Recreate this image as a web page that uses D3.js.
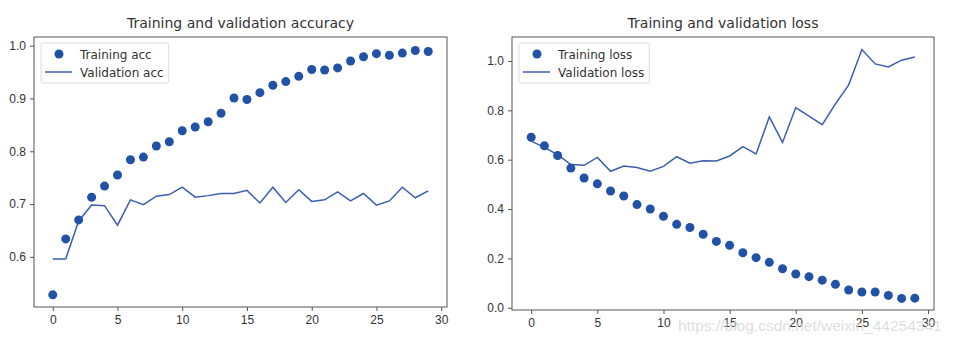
<!DOCTYPE html>
<html>
<head>
<meta charset="utf-8">
<script src="https://cdn.jsdelivr.net/npm/d3@7"></script>
<style>
  body { margin: 0; background: #fff; }
  svg { font-family: "DejaVu Sans", sans-serif; }
  .tick text { fill: #333; font-size: 12px; }
  .tick line, .domain { stroke: #555; }
</style>
</head>
<body>
<div id="chart"></div>
<script>
var width = 957;
var height = 344;

var epochs = d3.range(0, 30);

var trainAcc = [0.528, 0.634, 0.670, 0.713, 0.734, 0.755, 0.784, 0.789, 0.810, 0.818,
  0.839, 0.846, 0.856, 0.872, 0.901, 0.898, 0.911, 0.925, 0.932, 0.942,
  0.955, 0.954, 0.958, 0.971, 0.979, 0.985, 0.982, 0.986, 0.991, 0.989];
var valAcc = [0.596, 0.596, 0.668, 0.698, 0.697, 0.660, 0.708, 0.699, 0.715, 0.718,
  0.732, 0.713, 0.716, 0.720, 0.720, 0.726, 0.702, 0.732, 0.703, 0.727,
  0.705, 0.708, 0.723, 0.706, 0.720, 0.698, 0.706, 0.732, 0.712, 0.725];

var trainLoss = [0.691, 0.656, 0.617, 0.566, 0.526, 0.502, 0.473, 0.453, 0.418, 0.400,
  0.371, 0.338, 0.325, 0.298, 0.269, 0.253, 0.223, 0.203, 0.184, 0.158,
  0.137, 0.126, 0.112, 0.095, 0.072, 0.064, 0.064, 0.050, 0.038, 0.039];
var valLoss = [0.675, 0.650, 0.620, 0.580, 0.577, 0.609, 0.553, 0.574, 0.568, 0.553,
  0.573, 0.612, 0.586, 0.596, 0.595, 0.615, 0.653, 0.623, 0.773, 0.670,
  0.811, 0.776, 0.742, 0.826, 0.903, 1.046, 0.988, 0.976, 1.003, 1.016];

var xTicks = [0, 5, 10, 15, 20, 25, 30];
var accTicks = [0.6, 0.7, 0.8, 0.9, 1.0];
var lossTicks = [0.0, 0.2, 0.4, 0.6, 0.8, 1.0];

var dotColor = "#2152a6";
var lineColor = "#3a5fb0";

var svg = d3.select("#chart")
  .append("svg")
  .attr("width", width)
  .attr("height", height);

function drawPanel(opts) {
  var xScale = d3.scaleLinear()
    .domain([-1.45, 30.45])
    .range([opts.left, opts.right]);

  var yScale = d3.scaleLinear()
    .domain(opts.yDomain)
    .range([opts.bottom, opts.top]);

  var g = svg.append("g");

  // frame
  g.append("rect")
    .attr("x", opts.left)
    .attr("y", opts.top)
    .attr("width", opts.right - opts.left)
    .attr("height", opts.bottom - opts.top)
    .attr("fill", "none")
    .attr("stroke", "#555")
    .attr("stroke-width", 1);

  g.append("g")
    .attr("transform", `translate(0, ${opts.bottom})`)
    .call(d3.axisBottom(xScale).tickValues(xTicks).tickSize(4).tickPadding(4).tickFormat(d3.format("d")))
    .call(s => s.select(".domain").remove());

  g.append("g")
    .attr("transform", `translate(${opts.left}, 0)`)
    .call(d3.axisLeft(yScale).tickValues(opts.yTicks).tickSize(4).tickPadding(4).tickFormat(d3.format(".1f")))
    .call(s => s.select(".domain").remove());

  g.selectAll(".tick text").style("font-size", "12px").attr("fill", "#333");

  var line = d3.line()
    .x((d, i) => xScale(epochs[i]))
    .y(d => yScale(d));

  g.append("path")
    .datum(opts.val)
    .attr("d", line)
    .attr("fill", "none")
    .attr("stroke", lineColor)
    .attr("stroke-width", 1.5);

  g.selectAll("circle.pt")
    .data(opts.train)
    .enter()
    .append("circle")
    .attr("class", "pt")
    .attr("cx", (d, i) => xScale(epochs[i]))
    .attr("cy", d => yScale(d))
    .attr("r", 4.5)
    .attr("fill", dotColor);

  // title
  g.append("text")
    .attr("x", (opts.left + opts.right) / 2)
    .attr("y", opts.top - 9)
    .attr("text-anchor", "middle")
    .attr("fill", "#333")
    .style("font-size", "14px")
    .text(opts.title);

  // legend
  var lx = opts.left + 7;
  var ly = opts.top + 6;
  var box = g.append("rect")
    .attr("x", lx)
    .attr("y", ly)
    .attr("height", 40)
    .attr("rx", 2)
    .attr("fill", "#fff")
    .attr("stroke", "#ddd");

  g.append("circle")
    .attr("cx", lx + 18)
    .attr("cy", ly + 11)
    .attr("r", 4.5)
    .attr("fill", dotColor);

  g.append("line")
    .attr("x1", lx + 4)
    .attr("x2", lx + 31)
    .attr("y1", ly + 29)
    .attr("y2", ly + 29)
    .attr("stroke", lineColor)
    .attr("stroke-width", 1.5);

  var maxW = 0;
  opts.labels.forEach(function(lbl, i) {
    var t = g.append("text")
      .attr("x", lx + 39)
      .attr("y", ly + 15.5 + i * 18)
      .attr("fill", "#333")
      .style("font-size", "12px")
      .text(lbl);
    maxW = Math.max(maxW, t.node().getComputedTextLength());
  });
  box.attr("width", 39 + maxW + 5);
}

drawPanel({
  left: 34, right: 447, top: 37, bottom: 307,
  yDomain: [0.505, 1.0165],
  yTicks: accTicks,
  train: trainAcc,
  val: valAcc,
  title: "Training and validation accuracy",
  labels: ["Training acc", "Validation acc"]
});

drawPanel({
  left: 512, right: 934, top: 37, bottom: 310,
  yDomain: [-0.009, 1.097],
  yTicks: lossTicks,
  train: trainLoss,
  val: valLoss,
  title: "Training and validation loss",
  labels: ["Training loss", "Validation loss"]
});

// watermark
svg.append("text")
  .attr("x", 678)
  .attr("y", 331)
  .attr("fill", "#d8d8d8")
  .attr("fill-opacity", 0.85)
  .style("font-family", "Arial, 'Liberation Sans', sans-serif")
  .style("font-size", "15.5px")
  .text("https://blog.csdn.net/weixin_44254341");
</script>
</body>
</html>
